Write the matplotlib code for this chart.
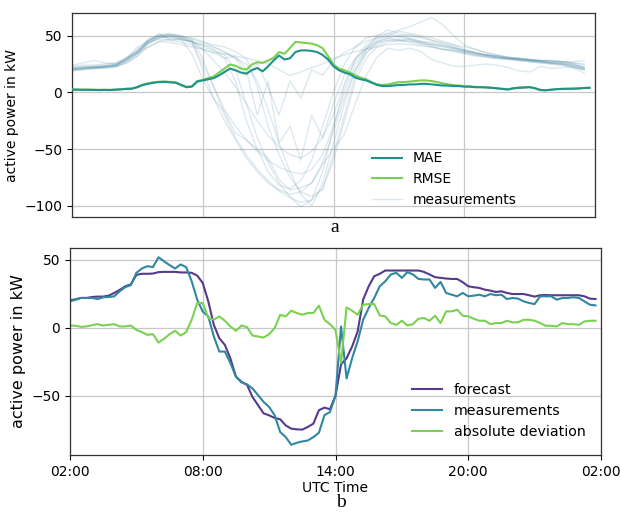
import numpy as np
import matplotlib
matplotlib.use("Agg")
import matplotlib.pyplot as plt

plt.rcParams['font.family'] = ['DejaVu Sans']
plt.rcParams['font.size'] = 10

# ---------------- data ----------------
# time axis in hours after 02:00 UTC
t15 = np.arange(96) * 0.25          # 15-min resolution
t30 = np.arange(48) * 0.5           # 30-min resolution

tick_pos = [0, 6, 12, 18, 24]
tick_labels = ["02:00", "08:00", "14:00", "20:00", "02:00"]

# ---- panel a ----
mae = [2.4, 2.3, 2.2, 2.2, 2.1, 2.0, 2.1, 2.0, 2.3, 2.6, 3.0, 3.2, 4.5, 6.5, 7.5, 8.5, 9.0, 9.2, 8.8, 8.5, 6.5, 4.5, 5.0, 9.5,
       10.5, 11.5, 12.5, 15, 18, 21, 19.5, 17.5, 16.5, 19.5, 21.5, 18.5, 23, 28, 32.5, 29, 30, 35.5, 37, 37, 36.5, 35.5, 33, 29,
       23, 19.5, 17.5, 16, 13, 11.5, 10.5, 8.5, 6.5, 5.5, 5.5, 6, 6.5, 6.5, 7, 7, 7.5, 7.5, 7, 6.5, 6, 6, 5.5, 5.5,
       5, 5, 4.5, 4.5, 4.3, 4, 3.5, 3, 2.5, 3.5, 4, 4.2, 4.5, 3.5, 2, 1.8, 2.3, 2.8, 3, 3.1, 3.2, 3.4, 3.8, 4.0]
rmse = [2.6, 2.5, 2.4, 2.4, 2.3, 2.2, 2.3, 2.2, 2.5, 2.8, 3.2, 3.4, 4.8, 6.8, 7.9, 8.9, 9.4, 9.6, 9.2, 8.9, 6.9, 4.9, 5.4, 10.0,
        11, 12.5, 14, 17.5, 21, 24.5, 23.5, 21, 20, 24.5, 26.5, 26, 28, 30.5, 35.5, 34, 39, 44.5, 44, 43.5, 43, 41.5, 39, 32,
        24.5, 21, 19.5, 17.5, 15, 13, 11.5, 9, 7, 6.5, 7, 8, 9, 9, 9.5, 10, 10.5, 10.5, 10, 9, 8, 7, 6.5, 6,
        5.5, 5.2, 4.8, 4.6, 4.4, 4.1, 3.6, 3.1, 2.6, 3.6, 4.2, 4.5, 4.7, 3.7, 2.1, 1.9, 2.4, 2.9, 3.1, 3.2, 3.3, 3.5, 3.9, 4.1]

meas_day01 = [20, 21, 22, 22, 23, 28, 35, 46, 50, 51, 49, 47, 30, 5, -20, -40, -55, -68, -78, -87, -93, -97, -95, -85,
              -60, -25, 10, 30, 40, 44, 46, 45, 44, 42, 40, 38, 36, 34, 33, 31, 30, 29, 28, 27, 26, 25, 23, 21]
meas_day02 = [21, 22, 22, 23, 24, 29, 38, 47, 51, 52, 50, 45, 20, -5, -25, -42, -58, -70, -80, -86, -90, -88, -80, -62,
              -35, -5, 20, 35, 42, 46, 47, 46, 44, 41, 38, 37, 35, 33, 31, 30, 29, 28, 27, 26, 25, 24, 22, 20]
meas_day03 = [19, 20, 21, 22, 23, 26, 32, 43, 48, 50, 48, 45, 40, 37, 33, 20, -10, -40, -62, -80, -92, -101, -95, -70,
              -30, 5, 30, 42, 48, 52, 50, 48, 45, 44, 42, 40, 37, 35, 33, 32, 30, 29, 28, 27, 26, 25, 23, 20]
meas_day04 = [22, 22, 23, 23, 25, 30, 36, 45, 49, 48, 47, 44, 42, 38, 30, 10, -25, -50, -70, -82, -85, -78, -60, -30,
              0, 25, 40, 48, 50, 52, 55, 58, 62, 66, 60, 50, 42, 38, 35, 33, 31, 30, 29, 28, 28, 27, 27, 28]
meas_day05 = [20, 22, 22, 23, 23, 30, 40, 45, 52, 46, 47, 34, 12, -6, -17, -36, -42, -50, -58, -77, -86, -84, -80, -64,
              -50, -37, -10, 15, 31, 39, 37, 39, 36, 29, 26, 23, 23, 24, 25, 24, 22, 19, 18, 23, 21, 22, 22, 17]
meas_day06 = [23, 24, 24, 25, 26, 31, 37, 44, 47, 46, 44, 42, 38, 35, 30, 32, 20, -20, 10, -45, -30, -60, -20, -40,
              -10, 15, 30, 38, 44, 46, 45, 47, 43, 42, 41, 39, 36, 34, 32, 31, 30, 30, 29, 28, 28, 27, 26, 24]
meas_day07 = [24, 26, 28, 26, 25, 30, 35, 40, 45, 44, 42, 40, 38, 35, 34, 32, 30, 28, 25, 20, 15, 18, 22, 25,
              30, 33, 36, 38, 40, 42, 43, 42, 41, 40, 38, 37, 35, 33, 32, 30, 30, 29, 28, 28, 27, 27, 26, 25]
meas_day08 = [20, 21, 22, 22, 24, 28, 34, 45, 50, 51, 50, 48, 45, 40, 35, 30, 25, 10, -15, -45, -70, -90, -100, -80,
              -45, -10, 20, 38, 50, 55, 52, 50, 48, 46, 44, 42, 40, 38, 35, 33, 31, 30, 29, 28, 28, 27, 25, 22]
meas_day09 = [21, 21, 22, 23, 24, 29, 36, 46, 50, 50, 48, 44, 25, 5, -15, -30, -42, -52, -60, -66, -70, -72, -68, -55,
              -30, 0, 25, 38, 45, 48, 46, 44, 42, 40, 38, 36, 34, 32, 31, 30, 29, 28, 27, 26, 25, 24, 22, 20]
meas_day10 = [19, 20, 21, 21, 22, 26, 32, 40, 45, 47, 46, 45, 42, 40, 36, 30, 15, 25, 5, -20, 10, -5, 20, 15,
              28, 35, 40, 45, 48, 50, 54, 52, 50, 48, 45, 42, 38, 35, 33, 32, 30, 29, 28, 27, 26, 26, 25, 22]
meas_day11 = [22, 23, 23, 24, 25, 29, 35, 44, 49, 50, 49, 47, 44, 42, 40, 36, 30, 5, -30, -55, -75, -88, -92, -85,
              -55, -20, 15, 35, 44, 48, 50, 51, 49, 46, 43, 40, 37, 35, 33, 31, 30, 29, 28, 27, 26, 25, 24, 21]
meas_day12 = [20, 21, 21, 22, 23, 27, 34, 43, 48, 49, 47, 45, 38, 28, 18, 5, -10, -25, -38, -48, -55, -58, -52, -40,
              -20, 8, 28, 40, 46, 50, 49, 47, 45, 43, 41, 39, 37, 35, 33, 32, 31, 30, 29, 28, 27, 26, 24, 22]
meas_days = [meas_day01, meas_day02, meas_day03, meas_day04, meas_day05, meas_day06,
             meas_day07, meas_day08, meas_day09, meas_day10, meas_day11, meas_day12]

# ---- panel b ----
forecast = [20.3, 21, 22, 22, 22.7, 23, 23, 23.7, 25.7, 28, 30.6, 32, 39, 39.8, 39.8, 40, 41, 41.2, 41.2, 41.2, 40.8, 40.8, 40.5, 38.5,
            33, 19.5, 2.2, -7.7, -12.6, -22.5, -36, -39.8, -42, -51, -57, -63, -64.5, -66.4, -67.4, -71.9, -74.3, -74.8, -75, -73, -70.6, -60.7, -58.8, -60,
            -50, -27, -22.5, -13.8, -2.7, 20.7, 30.6, 38, 39.8, 42.2, 42.2, 42.2, 42.2, 42.2, 42.2, 42.2, 41.2, 39.3, 37.3, 36.8, 36.3, 36, 36, 33.6,
            30.6, 29.9, 29.4, 28.1, 27.4, 26.4, 26.9, 25.7, 24.9, 24.9, 24.9, 24, 23, 24, 24.2, 24, 24, 24, 24, 24, 24, 23.2, 21.5, 21.2]
measurements = [19.5, 20.7, 22, 22, 22, 21.2, 22.5, 22.7, 23.2, 27, 30, 31.4, 40.5, 43.7, 45.4, 44.7, 52, 49, 46.2, 43.7, 46.7, 44.7, 34.3, 20.7,
                12, 8.4, -6.4, -17.5, -17.5, -26, -36, -40.2, -41.7, -44.7, -49.6, -54.6, -58.3, -64.4, -76.8, -80.5, -86.2, -84.7, -83.7, -83, -80.5, -77.3, -64.4, -62,
                -50, 1, -37.3, -22.5, -10, 6, 14.6, 22, 30.6, 34.3, 39.3, 40.5, 36.8, 41, 39.3, 36, 35.6, 35.6, 29.4, 33.8, 25.7, 24.4, 23.2, 25.7,
                23.2, 23.7, 24.4, 23.2, 24.9, 24, 24.4, 21.2, 22, 21.5, 19.5, 18.3, 17.5, 23.2, 23.2, 23.2, 20.7, 22, 22, 22.5, 22, 19.5, 17, 16.5]
deviation = [1.7, 1.5, 0.7, 1, 2, 2.7, 1.7, 2.2, 2.7, 1, 1, 1.7, -1.5, -3.2, -5.2, -4.7, -10.9, -8.1, -4.7, -2.2, -5.7, -3.2, 5.9, 18.3,
             18.3, 7.2, 5.9, 8.4, 5.2, 1, -2.2, 1.7, 0.5, -5.7, -6.4, -7.2, -4.7, -0.2, 9.6, 8.4, 12.6, 10.9, 9.6, 10.9, 10.9, 16.3, 5.9, 2.7,
             -1.5, -26, 15, 12.6, 9.6, 17, 17.5, 17.5, 9.1, 8.4, 3.5, 2.2, 5.2, 1.7, 2.7, 6.7, 7.2, 5.2, 8.9, 3.5, 12.1, 12.1, 13.3, 8.9,
             8.4, 6.7, 5.2, 5.2, 2.7, 3.5, 3.5, 5.2, 4, 4, 5.9, 5.9, 5.2, 3.5, 1.5, 1.5, 1, 3.5, 2.7, 2.7, 2.2, 4.7, 5.2, 5.2]

# ---------------- styling ----------------
c_mae = '#21918c'
c_rmse = '#7ad151'
c_meas_bg = '#3a7f9c'
c_fc = '#563a8c'
c_meas = '#2f87a0'
c_dev = '#7ad151'

W, H = 620, 516
fig = plt.figure(figsize=(W / 100, H / 100), dpi=100)

ax1 = fig.add_axes([72 / W, 1 - 217 / H, 523 / W, 204 / H])
ax2 = fig.add_axes([70 / W, 1 - 455 / H, 531 / W, 207 / H])

for ax in (ax1, ax2):
    ax.grid(True, color='#c8c8c8', linewidth=0.9)
    ax.set_axisbelow(True)
    for s in ax.spines.values():
        s.set_color('#333333')
        s.set_linewidth(0.9)

# panel a
bg_handle = None
for series in meas_days:
    bg_handle, = ax1.plot(t30, series, color=c_meas_bg, alpha=0.17, lw=1.0, zorder=2)
h_mae, = ax1.plot(t15, mae, color=c_mae, lw=1.5, zorder=4)
h_rmse, = ax1.plot(t15, rmse, color=c_rmse, lw=1.5, zorder=3)
ax1.set_xlim(0, 23.9)
ax1.set_ylim(-110, 70)
ax1.set_xticks(tick_pos)
ax1.set_xticklabels([])
ax1.tick_params(axis='x', length=0)
ax1.set_yticks([-100, -50, 0, 50])
ax1.set_ylabel('active power in kW')
ax1.legend([h_mae, h_rmse, bg_handle], ['MAE', 'RMSE', 'measurements'],
           loc='lower left', bbox_to_anchor=(0.555, 0.0), borderaxespad=0.3,
           frameon=False, handlelength=2.15)

# panel b
ax2.plot(t15, forecast, color=c_fc, lw=1.5, label='forecast')
ax2.plot(t15, measurements, color=c_meas, lw=1.5, label='measurements')
ax2.plot(t15, deviation, color=c_dev, lw=1.5, label='absolute deviation')
ax2.set_xlim(0, 24)
ax2.set_ylim(-93.7, 58.8)
ax2.set_xticks(tick_pos)
ax2.set_xticklabels(tick_labels)
ax2.set_yticks([-50, 0, 50])
ax2.set_ylabel('active power in kW', fontsize=11.5)
ax2.set_xlabel('UTC Time', labelpad=2)
ax2.legend(loc='lower right', frameon=False, handlelength=2.15,
           borderaxespad=0.7, prop={'size': 10.2})

fig.text(335 / W, 1 - 232 / H, 'a', ha='center', va='baseline',
         family=['Liberation Serif', 'DejaVu Serif'], fontsize=14)
fig.text(341 / W, 1 - 507 / H, 'b', ha='center', va='baseline',
         family=['Liberation Serif', 'DejaVu Serif'], fontsize=14)

fig.savefig('out.png', dpi=100)
